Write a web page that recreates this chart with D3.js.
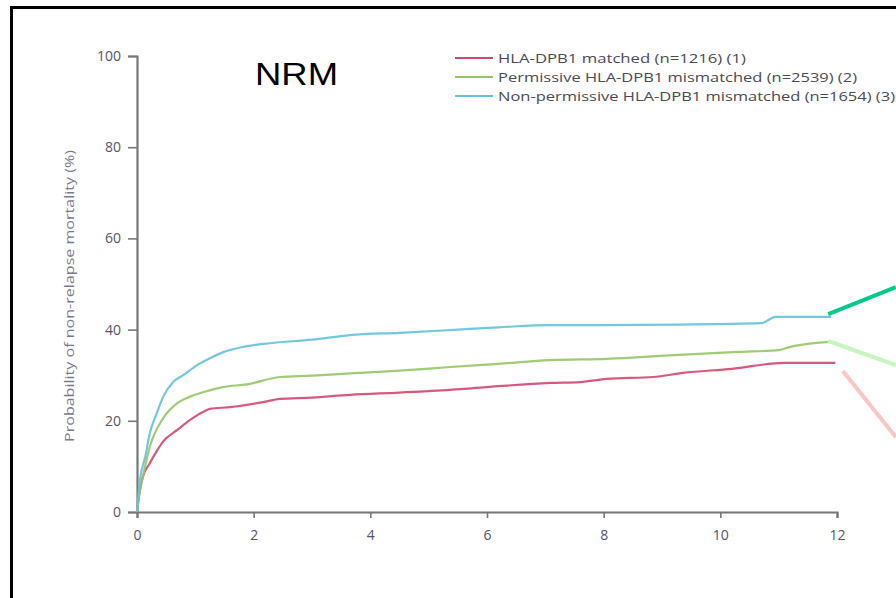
<!DOCTYPE html>
<html lang="en">
<head>
<meta charset="UTF-8">
<title>NRM</title>
<style>
  body { margin: 0; background: #fff; }
  svg { display: block; }
</style>
</head>
<body>
<div id="chart"></div>
<script src="https://cdn.jsdelivr.net/npm/d3@7/dist/d3.min.js"></script>
<script>
  // years after transplant and cumulative incidence (%)
  const matchedT = [0, 0.05, 0.1, 0.22, 0.34, 0.45, 0.69, 0.91, 1.14, 1.25, 1.6, 2.16, 2.45, 3.0, 3.65, 4.5, 5.37, 6.2, 7.08, 7.6, 8.06, 8.85, 9.36, 10.2, 11.1, 11.97];
  const matchedV = [0, 4.8, 7.7, 10.7, 13.4, 15.5, 18, 20.2, 22, 22.6, 23, 24.1, 24.8, 25.1, 25.7, 26.2, 26.8, 27.6, 28.3, 28.5, 29.2, 29.6, 30.5, 31.4, 32.7, 32.7];

  const permissiveT = [0, 0.04, 0.1, 0.22, 0.45, 0.69, 0.91, 1.14, 1.47, 1.89, 2.45, 3.0, 3.65, 4.5, 5.37, 6.2, 7.08, 8.06, 9.2, 10.3, 11.0, 11.2, 11.65, 11.9];
  const permissiveV = [0, 4, 7.7, 14.3, 20.6, 23.9, 25.3, 26.3, 27.4, 28, 29.6, 29.9, 30.4, 31, 31.8, 32.5, 33.3, 33.6, 34.4, 35.1, 35.5, 36.2, 37.1, 37.3];

  const nonPermT = [0, 0.05, 0.14, 0.22, 0.34, 0.45, 0.62, 0.79, 1.03, 1.25, 1.47, 1.82, 2.28, 3.0, 3.65, 4.5, 5.37, 6.2, 7.08, 8.0, 9.3, 10.7, 10.95, 11.9];
  const nonPermV = [0, 7, 12, 17.3, 21.7, 25.3, 28.5, 30, 32.2, 33.7, 35, 36.2, 37, 37.8, 38.8, 39.3, 39.9, 40.5, 41, 41, 41.1, 41.4, 42.8, 42.8];

  const seriesNames = [
    "HLA-DPB1 matched (n=1216) (1)",
    "Permissive HLA-DPB1 mismatched (n=2539) (2)",
    "Non-permissive HLA-DPB1 mismatched (n=1654) (3)"
  ];
  const seriesColors = ["#d4476f", "#95c766", "#62c2dc"];

  const xTicks = [0, 2, 4, 6, 8, 10, 12];
  const yTicks = [0, 20, 40, 60, 80, 100];
  const yTickLabels = ["0", "20", "40", "60", "80", "100"];

  // pointer strokes that leave the curve ends (data units)
  const pointerLines = [
    { from: [11.85, 43.4], to: [13.01, 49.3], color: "#00c98a" },
    { from: [11.85, 37.5], to: [13.01, 32.2], color: "#c6f5be" },
    { from: [12.1, 30.9], to: [13.01, 16.4], color: "#ffc4c4" }
  ];

  const width = 896, height = 598;
  const margin = { left: 137, right: 59, top: 56, bottom: 86 };

  const svg = d3.select("#chart").append("svg")
    .attr("width", width)
    .attr("height", height);

  // outer frame (right / bottom edges fall outside the view)
  svg.append("rect")
    .attr("x", 11.5).attr("y", 7.5)
    .attr("width", width).attr("height", height)
    .attr("fill", "none")
    .attr("stroke", "#000")
    .attr("stroke-width", 3);

  const x = d3.scaleLinear().domain([0, 12]).range([margin.left, width - margin.right]);
  const y = d3.scaleLinear().domain([0, 100]).range([height - margin.bottom, margin.top]);

  // axes
  const yAxis = svg.append("g")
    .attr("transform", `translate(${margin.left},0)`)
    .call(d3.axisLeft(y).tickValues(yTicks).tickFormat((d, i) => yTickLabels[i]).tickSize(9).tickPadding(7));
  const xAxis = svg.append("g")
    .attr("transform", `translate(0,${height - margin.bottom})`)
    .call(d3.axisBottom(x).tickValues(xTicks).tickFormat(d3.format("d")).tickSize(6).tickPadding(12));

  [yAxis, xAxis].forEach(g => {
    g.select(".domain").attr("stroke", "#777").attr("stroke-width", 2.2);
    g.selectAll(".tick line").attr("stroke", "#777").attr("stroke-width", 1.6);
    g.selectAll(".tick text")
      .attr("fill", "#55556a")
      .style("font-family", "'Open Sans', sans-serif")
      .style("font-size", "14px");
  });

  svg.append("text")
    .attr("transform", `translate(74,${(y(0) + y(100)) / 2 + 12}) rotate(-90)`)
    .attr("text-anchor", "middle")
    .attr("fill", "#7a7a8a")
    .style("font-family", "'Open Sans', sans-serif")
    .style("font-size", "13px")
    .attr("textLength", 292)
    .attr("lengthAdjust", "spacingAndGlyphs")
    .text("Probability of non-relapse mortality (%)");

  // curves
  const curveData = [
    matchedT.map((t, i) => [t, matchedV[i]]),
    permissiveT.map((t, i) => [t, permissiveV[i]]),
    nonPermT.map((t, i) => [t, nonPermV[i]])
  ];
  const line = d3.line().x(d => x(d[0])).y(d => y(d[1])).curve(d3.curveMonotoneX);

  svg.selectAll(".curve")
    .data(curveData)
    .enter().append("path")
    .attr("class", "curve")
    .attr("d", line)
    .attr("fill", "none")
    .attr("stroke", (d, i) => seriesColors[i])
    .attr("stroke-width", 2.2)
    .attr("opacity", 0.9);

  // pointer strokes
  svg.selectAll(".pointer")
    .data(pointerLines)
    .enter().append("line")
    .attr("class", "pointer")
    .attr("x1", d => x(d.from[0])).attr("y1", d => y(d.from[1]))
    .attr("x2", d => x(d.to[0])).attr("y2", d => y(d.to[1]))
    .attr("stroke", d => d.color)
    .attr("stroke-width", 4);

  // title
  svg.append("text")
    .attr("x", 255).attr("y", 85)
    .attr("fill", "#000")
    .style("font-family", "Arial, 'Liberation Sans', sans-serif")
    .style("font-size", "31px")
    .attr("textLength", 83)
    .attr("lengthAdjust", "spacingAndGlyphs")
    .text("NRM");

  // legend
  const legendLengths = [248, 359, 397];
  const legend = svg.append("g").attr("transform", "translate(455,58)");
  const rows = legend.selectAll("g")
    .data(seriesNames)
    .enter().append("g")
    .attr("transform", (d, i) => `translate(0,${i * 19})`);
  rows.append("line")
    .attr("x1", 0).attr("x2", 38)
    .attr("stroke", (d, i) => seriesColors[i])
    .attr("stroke-width", 2);
  rows.append("text")
    .attr("x", 43).attr("y", 4.5)
    .attr("fill", "#4a4a55")
    .style("font-family", "'Open Sans', sans-serif")
    .style("font-size", "13px")
    .attr("textLength", (d, i) => legendLengths[i])
    .attr("lengthAdjust", "spacingAndGlyphs")
    .text(d => d);
</script>
</body>
</html>
